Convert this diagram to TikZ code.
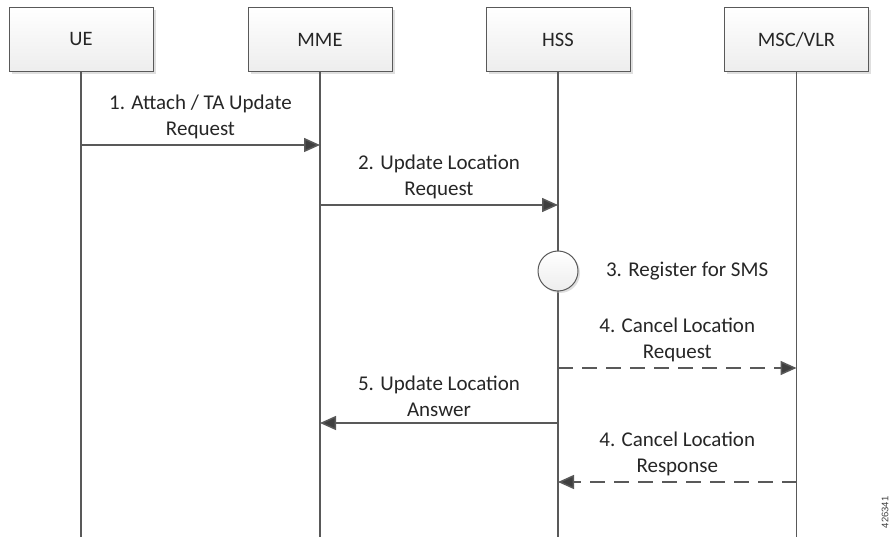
\documentclass[tikz,border=0pt]{standalone}
\usepackage{fontspec}
\setmainfont{Carlito}
\newfontfamily\idfont{Liberation Sans}
\usetikzlibrary{arrows.meta,shadows,positioning}
\definecolor{ln}{HTML}{595959}
\definecolor{tip}{HTML}{3F3F3F}
\tikzset{ent/.style={draw=ln, line width=1pt, minimum width=144pt, minimum height=64pt,
  top color=white, bottom color=black!7,
  drop shadow={shadow xshift=2.5pt, shadow yshift=-2.5pt, fill=black!25, opacity=0.5},
  font=\fontsize{20.5}{24}\selectfont, text=black!85}}
\tikzset{life/.style={draw=ln, line width=1.5pt}}
\tikzset{msg/.style={draw=ln, line width=1.5pt, -{Triangle[length=16pt,width=14pt,fill=tip]}}}
\tikzset{dsh/.style={msg, dash pattern=on 15pt off 9pt}}
\tikzset{l/.style={font=\fontsize{21}{26}\selectfont, align=center, text=black!85}}

\begin{document}
\begin{tikzpicture}[x=1pt, y=-1pt]
    \useasboundingbox (0,0) rectangle (892,537);
    % entities
    \node[ent] (UE) at (81,39.5) {UE};
    \node[ent] (MME) at (320,39.5) {MME};
    \node[ent] (HSS) at (558,39.5) {HSS};
    \node[ent] (MSC) at (796.5,39.5) {MSC/VLR};
    \coordinate (UEend) at (81,540);
    \coordinate (MMEend) at (320,540);
    \coordinate (HSSend) at (558,540);
    \coordinate (MSCend) at (796.5,540);
    \draw[life] (UE) -- (UEend);
    \draw[life] (MME) -- (MMEend);
    \draw[life] (HSS) -- (HSSend);
    \draw[life] (MSC) -- (MSCend);
    % message points
    \coordinate (ue1) at (81,145);
    \coordinate (mme1) at (320,145);
    \coordinate (mme2) at (320,205);
    \coordinate (hss2) at (558,205);
    \coordinate (hss4) at (558,368);
    \coordinate (msc4) at (796.5,368);
    \coordinate (hss5) at (558,423);
    \coordinate (mme5) at (320,423);
    \coordinate (msc6) at (796.5,482);
    \coordinate (hss6) at (558,482);
    \draw[msg] (ue1) -- node [above=2pt, l] {1. Attach / TA Update\\Request} (mme1);
    \draw[msg] (mme2) -- node [above=2pt, l] {2. Update Location\\Request} (hss2);
    \node[circle, draw=ln, line width=1pt, minimum size=40pt, top color=white, bottom color=black!7,
      drop shadow={shadow xshift=2pt, shadow yshift=-2pt, fill=black!25, opacity=0.5}]
      (reg) at (558,271) {};
    \node[l, right=24pt of reg] (reglbl) {3. Register for SMS};
    \draw[dsh] (hss4) -- node [above=2pt, l] {4. Cancel Location\\Request} (msc4);
    \draw[msg] (hss5) -- node [above=2pt, l] {5. Update Location\\Answer} (mme5);
    \draw[dsh] (msc6) -- node [above=2pt, l] {4. Cancel Location\\Response} (hss6);
    \node[rotate=90, anchor=east, font=\idfont\fontsize{9.5}{10}\selectfont, text=black!75] (fig) at (885,493) {426341};
\end{tikzpicture}
\end{document}
